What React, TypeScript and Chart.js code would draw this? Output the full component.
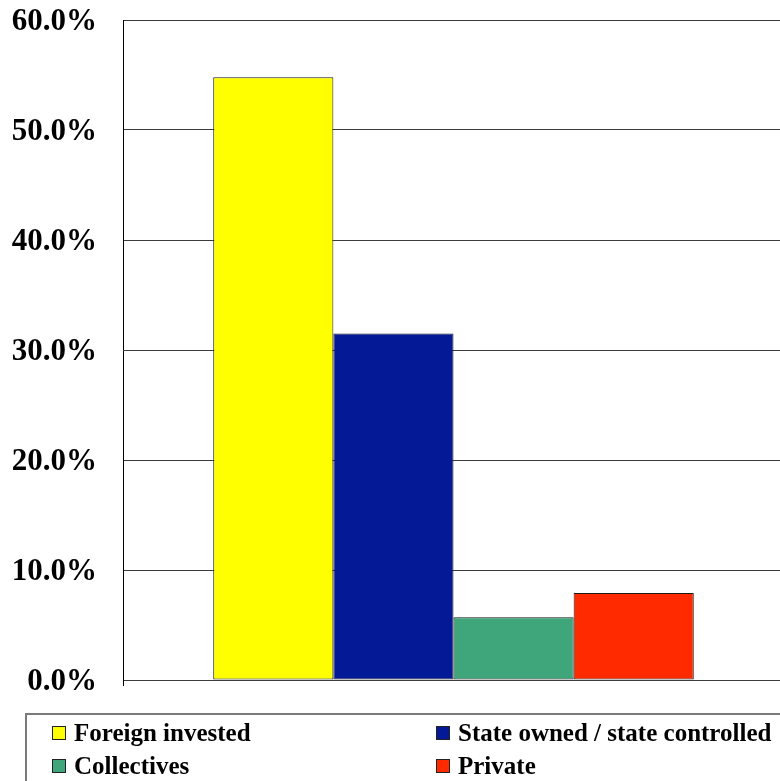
import React, { useEffect, useRef } from "react";
import { Chart, registerables } from "chart.js";

Chart.register(...registerables);

// ---- Data ----
const categories = [""];
const seriesLabels = [
  "Foreign invested",
  "State owned / state controlled",
  "Collectives",
  "Private",
];
const foreignInvested = [54.8];
const stateOwned = [31.5];
const collectives = [5.7];
const privateOwned = [7.9];
const seriesColors = ["#FFFF00", "#031996", "#3FA67B", "#FF2A00"];
const yMin = 0;
const yMax = 60;
const yStep = 10;

const FONT = "'Times New Roman', 'Liberation Serif', serif";

const boxLegend = {
  id: "boxLegend",
  afterDraw(chart: any) {
    const ctx = chart.ctx;
    ctx.save();
    ctx.strokeStyle = "#7a7a7a";
    ctx.lineWidth = 2;
    ctx.strokeRect(26, 714, chart.width + 20, chart.height + 20);
    const cols = [52, 436];
    const rows = [726, 759];
    ctx.font = `bold 25px ${FONT}`;
    ctx.textBaseline = "alphabetic";
    ctx.textAlign = "left";
    chart.data.datasets.forEach((ds: any, i: number) => {
      const x = cols[i % 2];
      const y = rows[Math.floor(i / 2)];
      ctx.fillStyle = ds.backgroundColor;
      ctx.fillRect(x, y, 13, 13);
      ctx.strokeStyle = "#222";
      ctx.lineWidth = 1;
      ctx.strokeRect(x + 0.5, y + 0.5, 13, 13);
      ctx.fillStyle = "#000";
      ctx.fillText(ds.label, x + 22, y + 15);
    });
    ctx.restore();
  },
};

export default function App() {
  const ref = useRef<HTMLCanvasElement | null>(null);

  useEffect(() => {
    if (!ref.current) return;
    const values = [foreignInvested, stateOwned, collectives, privateOwned];
    const chart = new Chart(ref.current, {
      type: "bar",
      data: {
        labels: categories,
        datasets: seriesLabels.map((label, i) => ({
          label,
          data: values[i],
          backgroundColor: seriesColors[i],
          borderColor: "#1a1a1a",
          borderWidth: 1,
          borderSkipped: false,
          barPercentage: 1,
          categoryPercentage: 0.727,
        })),
      },
      options: {
        responsive: false,
        animation: false,
        layout: { padding: { top: 20, right: 16, left: 0, bottom: 0 } },
        plugins: {
          legend: { display: false },
          tooltip: { enabled: false },
        },
        scales: {
          x: {
            display: true,
            afterFit: (s: any) => {
              s.height = 101;
              s.paddingLeft = 0;
              s.paddingRight = 0;
            },
            grid: {
              display: true,
              drawOnChartArea: false,
              tickLength: 6,
              color: "#000",
              offset: true,
            },
            border: { display: false },
            ticks: { display: false },
          },
          y: {
            min: yMin,
            max: yMax,
            afterFit: (s: any) => {
              s.width = 123;
              s.paddingTop = 0;
              s.paddingBottom = 0;
            },
            ticks: {
              stepSize: yStep,
              padding: 26,
              labelOffset: 2,
              color: "#000",
              font: { family: FONT, size: 31, weight: "bold" },
              callback: (v: any) => Number(v).toFixed(1) + "%",
            },
            grid: { color: "#3c3c3c", lineWidth: 1, drawTicks: false },
            border: { display: true, color: "#000", width: 1 },
          },
        },
      },
      plugins: [boxLegend],
    });
    return () => chart.destroy();
  }, []);

  return (
    <div
      style={{
        position: "fixed",
        left: 0,
        top: 0,
        width: 780,
        height: 781,
        overflow: "hidden",
        background: "#fff",
      }}
    >
      <canvas ref={ref} width={800} height={781} style={{ display: "block" }} />
    </div>
  );
}
